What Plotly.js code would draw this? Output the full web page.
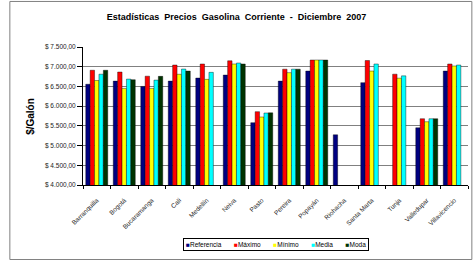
<!DOCTYPE html>
<html><head><meta charset="utf-8">
<script src="https://cdn.plot.ly/plotly-3.0.1.min.js"></script>
<style>html,body{margin:0;padding:0;background:#fff}#c{width:473px;height:260px}</style>
</head><body><div id="c"></div>
<script>
var cities = ["Barranquilla","Bogotá","Bucaramanga","Cali","Medellín","Neiva","Pasto","Pereira","Popayán","Riohacha","Santa Marta","Tunja","Valledupar","Villavicencio"];
var referencia = [6555, 6635, 6500, 6635, 6712, 6788, 5580, 6635, 6890, 5273, 6596, null, 5452, 6890];
var maximo     = [6910, 6865, 6760, 7043, 7069, 7150, 5860, 6938, 7170, null, 7157, 6811, 5681, 7069];
var minimo     = [6650, 6450, 6450, 6808, 6679, 7069, 5725, 6850, 7170, null, 6890, 6709, 5605, 7018];
var media      = [6810, 6686, 6660, 6941, 6857, 7094, 5826, 6938, 7170, null, 7069, 6768, 5681, 7043];
var moda       = [6910, 6670, 6755, 6890, null, 7069, 5830, 6938, 7170, null, null, null, 5681, null];
var seriesNames = ["Referencia","Máximo","Mínimo","Media","Moda"];
var seriesColors = ["#000080","#FF0000","#FFFF00","#00FFFF","#003300"];
var tickVals = [4000,4500,5000,5500,6000,6500,7000,7500];
var tickText = ["$ 4.000,00","$ 4.500,00","$ 5.000,00","$ 5.500,00","$ 6.000,00","$ 6.500,00","$ 7.000,00","$ 7.500,00"];

var all = [referencia, maximo, minimo, media, moda];
var traces = all.map(function(v,i){
  return {type:'bar', x:cities, y:v, name:seriesNames[i],
    marker:{color:seriesColors[i], line:{color:'#000000', width:0.4}}};
});
var legendText = seriesNames.map(function(n,i){
  return '<span style="color:'+seriesColors[i]+'">■</span>'+n;
}).join('&nbsp;&nbsp;&nbsp;&nbsp;&nbsp;&nbsp;&nbsp;');
var layout = {
  width:473, height:260,
  margin:{l:83, r:5, t:47, b:75},
  paper_bgcolor:'#fff', plot_bgcolor:'#fff',
  font:{family:'Liberation Sans, Arial, sans-serif', size:7, color:'#000'},
  title:{text:'<b>Estadísticas  Precios  Gasolina  Corriente  -  Diciembre  2007</b>', font:{size:9, color:'#000'}, x:0.5, xanchor:'center', y:0.935, yanchor:'middle'},
  barmode:'group', bargap:0.2, bargroupgap:0,
  xaxis:{tickangle:-45, tickfont:{size:6.5, color:'#222'}, showline:true, linecolor:'#000', linewidth:1,
    ticks:'outside', tickson:'boundaries', ticklen:3, tickcolor:'#000', showgrid:false, automargin:false, ticklabelstandoff:8},
  yaxis:{range:[4000,7500], tickvals:tickVals, ticktext:tickText, tickfont:{size:6.5, color:'#222'},
    showline:true, linecolor:'#000', linewidth:1, ticks:'outside', ticklen:5, tickcolor:'#000',
    showgrid:true, gridcolor:'#808080', gridwidth:1, zeroline:false, automargin:false},
  showlegend:false,
  annotations:[
    {text:'<b>$/Galón</b>', textangle:-90, xref:'paper', yref:'paper', x:-0.138, y:0.5, xanchor:'center', yanchor:'middle', showarrow:false, font:{size:10, color:'#000'}},
    {text:legendText, xref:'paper', yref:'paper', x:0.5, y:-0.43, xanchor:'center', yanchor:'middle', showarrow:false,
     font:{size:6.5, color:'#000'}, bordercolor:'#000', borderwidth:1, borderpad:2, bgcolor:'#fff'}
  ],
  shapes:[{type:'rect', xref:'paper', yref:'paper', x0:-0.19, x1:1.01, y0:-0.54, y1:1.33, line:{color:'#808080', width:1}}]
};
Plotly.newPlot('c', traces, layout, {displayModeBar:false, staticPlot:true});
</script></body></html>
